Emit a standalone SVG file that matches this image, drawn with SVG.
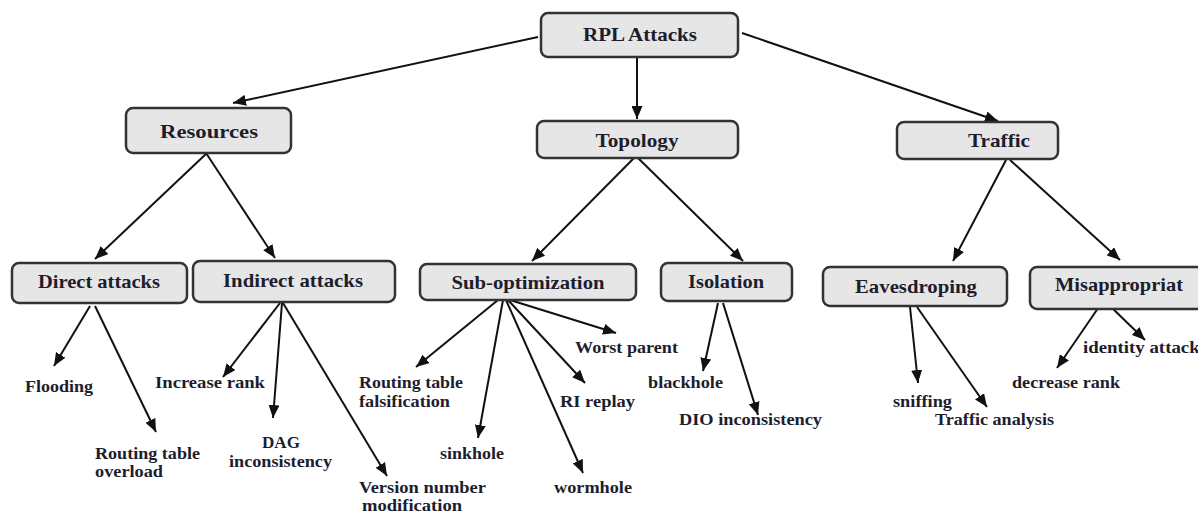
<svg xmlns="http://www.w3.org/2000/svg" width="1198" height="513" viewBox="0 0 1198 513">
<defs>
<marker id="ah" markerUnits="userSpaceOnUse" markerWidth="13" markerHeight="11" refX="13" refY="5.5" orient="auto">
<path d="M0,0 L13,5.5 L0,11 z" fill="#111"/>
</marker>
<style>
.box{fill:#e6e6e6;stroke:#333;stroke-width:2.5}
.nt{font-family:"Liberation Serif",serif;font-weight:bold;font-size:19px;fill:#1d1d2e;text-anchor:middle}
.lt{font-family:"Liberation Serif",serif;font-weight:bold;font-size:16px;fill:#1d1d2e}
.c line{stroke:#111;stroke-width:2;marker-end:url(#ah)}
</style>
</defs>
<rect width="1198" height="513" fill="#fff"/>
<g id="connectors" class="c">
<line x1="538" y1="37" x2="233" y2="103"/>
<line x1="637" y1="57" x2="637" y2="119"/>
<line x1="742" y1="33" x2="998" y2="121"/>
<line x1="207" y1="153" x2="95" y2="259"/>
<line x1="206" y1="153" x2="275" y2="258"/>
<line x1="634" y1="158" x2="532" y2="261"/>
<line x1="638" y1="158" x2="743" y2="261"/>
<line x1="1006" y1="160" x2="953" y2="261"/>
<line x1="1010" y1="160" x2="1120" y2="260"/>
<line x1="90" y1="306" x2="54" y2="366"/>
<line x1="95" y1="306" x2="156" y2="432"/>
<line x1="280" y1="303" x2="223" y2="377"/>
<line x1="282" y1="303" x2="273" y2="418"/>
<line x1="283" y1="303" x2="387" y2="476"/>
<line x1="498" y1="300" x2="416" y2="367"/>
<line x1="503" y1="300" x2="478" y2="438"/>
<line x1="506" y1="300" x2="583" y2="473"/>
<line x1="508" y1="300" x2="585" y2="383"/>
<line x1="510" y1="300" x2="616" y2="333"/>
<line x1="718" y1="303" x2="703" y2="371"/>
<line x1="723" y1="303" x2="758" y2="415"/>
<line x1="910" y1="307" x2="918" y2="383"/>
<line x1="917" y1="307" x2="987" y2="407"/>
<line x1="1103" y1="301" x2="1057" y2="368"/>
<line x1="1108" y1="304" x2="1145" y2="340"/>
</g>
<g id="rpl"><rect class="box" x="541" y="13" width="197" height="44" rx="7"/><text class="nt" x="640" y="41" textLength="114" lengthAdjust="spacingAndGlyphs">RPL Attacks</text></g>
<g id="resources"><rect class="box" x="126" y="108" width="165" height="45" rx="7"/><text class="nt" x="209" y="138" textLength="98" lengthAdjust="spacingAndGlyphs">Resources</text></g>
<g id="topology"><rect class="box" x="537" y="121" width="201" height="37" rx="7"/><text class="nt" x="637" y="147" textLength="83" lengthAdjust="spacingAndGlyphs">Topology</text></g>
<g id="traffic"><rect class="box" x="897" y="122" width="161" height="37" rx="7"/><text class="nt" x="999" y="147" textLength="62" lengthAdjust="spacingAndGlyphs">Traffic</text></g>
<g id="direct"><rect class="box" x="12" y="263" width="175" height="40" rx="7"/><text class="nt" x="99" y="288" textLength="122" lengthAdjust="spacingAndGlyphs">Direct attacks</text></g>
<g id="indirect"><rect class="box" x="193" y="261" width="202" height="41" rx="7"/><text class="nt" x="293" y="287" textLength="140" lengthAdjust="spacingAndGlyphs">Indirect attacks</text></g>
<g id="suboptimization"><rect class="box" x="420" y="264" width="216" height="36" rx="7"/><text class="nt" x="528" y="289" textLength="153" lengthAdjust="spacingAndGlyphs">Sub-optimization</text></g>
<g id="isolation"><rect class="box" x="661" y="263" width="131" height="38" rx="7"/><text class="nt" x="726" y="288" textLength="76" lengthAdjust="spacingAndGlyphs">Isolation</text></g>
<g id="eavesdroping"><rect class="box" x="823" y="267" width="184" height="39" rx="7"/><text class="nt" x="916" y="293" textLength="122" lengthAdjust="spacingAndGlyphs">Eavesdroping</text></g>
<g id="misappropriat"><rect class="box" x="1030" y="267" width="180" height="42" rx="7"/><text class="nt" x="1119" y="291" textLength="128" lengthAdjust="spacingAndGlyphs">Misappropriat</text></g>
<g id="leaves">
<text class="lt" x="25" y="392" textLength="68" lengthAdjust="spacingAndGlyphs">Flooding</text>
<text class="lt" x="95" y="459" textLength="105" lengthAdjust="spacingAndGlyphs">Routing table</text>
<text class="lt" x="95" y="477" textLength="68" lengthAdjust="spacingAndGlyphs">overload</text>
<text class="lt" x="155" y="388" textLength="110" lengthAdjust="spacingAndGlyphs">Increase rank</text>
<text class="lt" x="262" y="448" textLength="38" lengthAdjust="spacingAndGlyphs">DAG</text>
<text class="lt" x="229" y="467" textLength="103" lengthAdjust="spacingAndGlyphs">inconsistency</text>
<text class="lt" x="359" y="493" textLength="127" lengthAdjust="spacingAndGlyphs">Version number</text>
<text class="lt" x="362" y="511" textLength="100" lengthAdjust="spacingAndGlyphs">modification</text>
<text class="lt" x="575" y="353" textLength="103" lengthAdjust="spacingAndGlyphs">Worst parent</text>
<text class="lt" x="359" y="388" textLength="104" lengthAdjust="spacingAndGlyphs">Routing table</text>
<text class="lt" x="359" y="407" textLength="91" lengthAdjust="spacingAndGlyphs">falsification</text>
<text class="lt" x="440" y="459" textLength="64" lengthAdjust="spacingAndGlyphs">sinkhole</text>
<text class="lt" x="560" y="407" textLength="75" lengthAdjust="spacingAndGlyphs">RI replay</text>
<text class="lt" x="554" y="493" textLength="78" lengthAdjust="spacingAndGlyphs">wormhole</text>
<text class="lt" x="648" y="388" textLength="75" lengthAdjust="spacingAndGlyphs">blackhole</text>
<text class="lt" x="679" y="425" textLength="143" lengthAdjust="spacingAndGlyphs">DIO inconsistency</text>
<text class="lt" x="893" y="407" textLength="59" lengthAdjust="spacingAndGlyphs">sniffing</text>
<text class="lt" x="935" y="425" textLength="119" lengthAdjust="spacingAndGlyphs">Traffic analysis</text>
<text class="lt" x="1012" y="388" textLength="108" lengthAdjust="spacingAndGlyphs">decrease rank</text>
<text class="lt" x="1083" y="353" textLength="124" lengthAdjust="spacingAndGlyphs">identity attacks</text>
</g>
</svg>
